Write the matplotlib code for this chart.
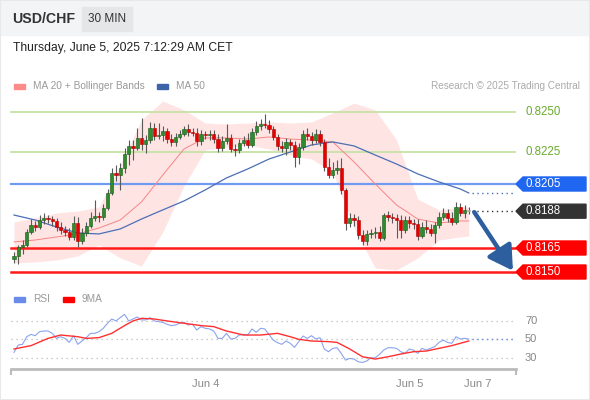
import numpy as np
import matplotlib
matplotlib.use("Agg")
import matplotlib.pyplot as plt
from matplotlib.patches import Rectangle, Polygon

plt.rcParams['font.family'] = ['Liberation Sans', 'DejaVu Sans']

# 30 min candles, USD/CHF, Jun 3 -> Jun 5 07:00
first_open = 0.81581
closes = [0.81600, 0.81656, 0.81669, 0.81750, 0.81794, 0.81781, 0.81825, 0.81838, 0.81831, 0.81819,
          0.81781, 0.81763, 0.81750, 0.81719, 0.81806, 0.81694, 0.81744, 0.81788, 0.81838, 0.81850,
          0.81844, 0.81900, 0.81994, 0.82119, 0.82106, 0.82150, 0.82238, 0.82288, 0.82275, 0.82338,
          0.82300, 0.82325, 0.82400, 0.82350, 0.82356, 0.82381, 0.82331, 0.82313, 0.82344, 0.82363,
          0.82394, 0.82375, 0.82369, 0.82319, 0.82363, 0.82356, 0.82363, 0.82331, 0.82275, 0.82319,
          0.82338, 0.82269, 0.82263, 0.82306, 0.82325, 0.82294, 0.82375, 0.82413, 0.82425, 0.82419,
          0.82394, 0.82344, 0.82288, 0.82275, 0.82313, 0.82294, 0.82219, 0.82281, 0.82363, 0.82350,
          0.82325, 0.82363, 0.82313, 0.82156, 0.82106, 0.82138, 0.82150, 0.82013, 0.81806, 0.81838,
          0.81825, 0.81731, 0.81694, 0.81738, 0.81744, 0.81750, 0.81713, 0.81856, 0.81844, 0.81838,
          0.81825, 0.81763, 0.81825, 0.81806, 0.81800, 0.81725, 0.81781, 0.81769, 0.81744, 0.81794,
          0.81844, 0.81869, 0.81838, 0.81813, 0.81906, 0.81869, 0.81888, 0.81880]
highs = [0.81625, 0.81669, 0.81700, 0.81769, 0.81831, 0.81819, 0.81856, 0.81869, 0.81856, 0.81850,
         0.81838, 0.81813, 0.81788, 0.81775, 0.81850, 0.81844, 0.81775, 0.81813, 0.81875, 0.81950,
         0.81875, 0.81925, 0.82019, 0.82150, 0.82169, 0.82181, 0.82275, 0.82325, 0.82325, 0.82400,
         0.82463, 0.82356, 0.82438, 0.82431, 0.82431, 0.82413, 0.82400, 0.82363, 0.82369, 0.82388,
         0.82413, 0.82425, 0.82400, 0.82400, 0.82388, 0.82381, 0.82388, 0.82388, 0.82363, 0.82350,
         0.82425, 0.82363, 0.82300, 0.82331, 0.82350, 0.82369, 0.82400, 0.82444, 0.82456, 0.82488,
         0.82450, 0.82413, 0.82363, 0.82319, 0.82338, 0.82331, 0.82319, 0.82306, 0.82388, 0.82400,
         0.82375, 0.82394, 0.82388, 0.82331, 0.82213, 0.82188, 0.82200, 0.82213, 0.82025, 0.81869,
         0.81863, 0.81850, 0.81763, 0.81763, 0.81769, 0.81781, 0.81788, 0.81869, 0.81881, 0.81869,
         0.81863, 0.81856, 0.81850, 0.81850, 0.81831, 0.81831, 0.81813, 0.81825, 0.81800, 0.81813,
         0.81875, 0.81900, 0.81894, 0.81875, 0.81938, 0.81931, 0.81919, 0.81906]
lows = [0.81556, 0.81550, 0.81613, 0.81656, 0.81738, 0.81756, 0.81769, 0.81800, 0.81806, 0.81788,
        0.81756, 0.81738, 0.81725, 0.81700, 0.81700, 0.81656, 0.81675, 0.81725, 0.81775, 0.81819,
        0.81813, 0.81825, 0.81888, 0.81981, 0.82069, 0.82013, 0.82119, 0.82169, 0.82200, 0.82263,
        0.82263, 0.82244, 0.82306, 0.82325, 0.82331, 0.82319, 0.82306, 0.82288, 0.82288, 0.82331,
        0.82350, 0.82350, 0.82350, 0.82288, 0.82294, 0.82331, 0.82325, 0.82306, 0.82250, 0.82256,
        0.82300, 0.82250, 0.82225, 0.82244, 0.82288, 0.82275, 0.82281, 0.82356, 0.82388, 0.82400,
        0.82369, 0.82325, 0.82263, 0.82250, 0.82231, 0.82263, 0.82156, 0.82175, 0.82263, 0.82325,
        0.82294, 0.82306, 0.82288, 0.82131, 0.82088, 0.82088, 0.82113, 0.81988, 0.81763, 0.81781,
        0.81788, 0.81706, 0.81669, 0.81669, 0.81713, 0.81713, 0.81694, 0.81700, 0.81819, 0.81806,
        0.81713, 0.81713, 0.81744, 0.81775, 0.81769, 0.81700, 0.81713, 0.81744, 0.81725, 0.81681,
        0.81775, 0.81825, 0.81813, 0.81794, 0.81800, 0.81850, 0.81838, 0.81863]

# indicators every few candles
band_idx = [0, 5, 10, 15, 20, 25, 30, 35, 40, 45, 50, 55, 60, 65, 70, 75, 80, 85, 90, 95, 100, 105, 107]
ma50 = [0.81856, 0.81825, 0.81781, 0.81744, 0.81738, 0.81769, 0.81831, 0.81888, 0.81944, 0.82013,
        0.82088, 0.82144, 0.82206, 0.82250, 0.82294, 0.82313, 0.82288, 0.82231, 0.82175, 0.82113,
        0.82063, 0.82019, 0.81994]
ma20 = [0.81688, 0.81700, 0.81719, 0.81738, 0.81775, 0.81825, 0.81938, 0.82106, 0.82269, 0.82338,
        0.82338, 0.82331, 0.82344, 0.82331, 0.82325, 0.82313, 0.82188, 0.82050, 0.81919, 0.81831,
        0.81806, 0.81819, 0.81819]
bb_upper = [0.81813, 0.81838, 0.81869, 0.81881, 0.81906, 0.82169, 0.82450, 0.82569, 0.82513, 0.82431,
            0.82425, 0.82431, 0.82438, 0.82431, 0.82438, 0.82494, 0.82556, 0.82513, 0.82325, 0.81956,
            0.81888, 0.81906, 0.81906]
bb_lower = [0.81556, 0.81563, 0.81575, 0.81600, 0.81669, 0.81588, 0.81538, 0.81750, 0.82038, 0.82263,
            0.82281, 0.82294, 0.82269, 0.82231, 0.82206, 0.82125, 0.81775, 0.81525, 0.81513, 0.81588,
            0.81700, 0.81719, 0.81725]

rsi = [36.0, 43.9, 44.6, 52.8, 55.3, 53.9, 58.2, 58.9, 58.9, 56.4,
       51.0, 52.8, 51.0, 46.7, 53.9, 44.6, 48.2, 51.8, 56.4, 56.4,
       58.2, 61.8, 67.2, 71.8, 69.7, 73.3, 76.8, 69.7, 71.8, 74.0,
       70.8, 70.8, 73.3, 69.7, 69.0, 68.2, 66.1, 64.7, 65.4, 67.2,
       68.2, 65.4, 66.1, 60.0, 63.6, 61.8, 61.1, 58.9, 51.0, 51.0,
       56.4, 50.3, 51.0, 54.6, 55.3, 54.6, 61.1, 57.5, 61.8, 61.1,
       55.3, 49.2, 46.4, 44.6, 48.2, 45.7, 41.4, 47.5, 53.5, 51.0,
       53.9, 50.3, 51.8, 39.6, 36.7, 40.3, 41.0, 34.9, 27.7, 29.5,
       28.8, 25.9, 25.2, 26.7, 30.2, 30.2, 33.8, 38.5, 41.0, 41.0,
       40.3, 36.7, 34.9, 39.6, 38.5, 34.9, 40.3, 38.5, 40.3, 42.1,
       46.7, 49.2, 46.7, 45.7, 52.8, 50.3, 51.0, 50.3]
ma9_idx = [0, 4, 8, 11, 15, 17, 20, 23, 26, 28, 30, 33, 36, 40, 44, 47, 50, 54, 58, 62,
           65, 67, 70, 74, 76, 79, 82, 85, 88, 91, 94, 97, 100, 103, 107]
ma9 = [39.6, 43.2, 51.0, 54.6, 52.8, 51.0, 51.8, 56.4, 64.7, 69.7, 72.5, 71.8, 69.7, 67.2, 64.7,
       63.6, 58.9, 54.6, 54.6, 56.4, 52.8, 50.0, 48.2, 47.5, 46.7, 39.6, 31.3, 28.8, 31.3, 34.2,
       36.7, 37.4, 40.3, 43.2, 48.2]

resistances = [0.8250, 0.8225]
pivot = 0.8205
last_price = 0.8188
supports = [0.8165, 0.8150]
target = 0.8151
tick_idx = [45, 93, 109]
tick_labels = ["Jun 4", "Jun 5", "Jun 7"]

W, H = 590, 400
fig = plt.figure(figsize=(W / 100, H / 100), dpi=100)


def fx(px):
    return px / W


def fy(px):
    return 1 - px / H


# header
fig.patches.append(Rectangle((0, fy(35)), 1, 35 / H, transform=fig.transFigure,
                             color='#f3f4f5', zorder=0))
fig.patches.append(Rectangle((fx(82), fy(31)), fx(50), 24 / H, transform=fig.transFigure,
                             color='#e4e6e8', zorder=1))
fig.patches.append(Rectangle((0, 0), 1, 1, transform=fig.transFigure, fill=False,
                             edgecolor='#e8e8e8', lw=1.5, zorder=0))
fig.text(fx(12), fy(19), "USD/CHF", fontsize=10.2, weight='bold', color='#333333', va='center')
fig.text(fx(107), fy(19), "30 MIN", fontsize=8.5, color='#333333', va='center', ha='center')
fig.text(fx(13), fy(48), "Thursday, June 5, 2025 7:12:29 AM CET", fontsize=8.7, color='#222222',
         va='center')

# legends
def swatch(x0, y0, color):
    fig.patches.append(Rectangle((fx(x0), fy(y0 + 3)), fx(11), 5 / H, transform=fig.transFigure,
                                 color=color))


swatch(14, 86, '#ff8a8a')
fig.text(fx(33), fy(86), "MA 20 + Bollinger Bands", fontsize=7.3, color='#999999', va='center')
swatch(157, 86, '#3d63a8')
fig.text(fx(176), fy(86), "MA 50", fontsize=7.3, color='#999999', va='center')
fig.text(fx(580), fy(86), "Research © 2025 Trading Central", fontsize=7.2, color='#aaaaaa',
         va='center', ha='right')
swatch(14, 299, '#6a8ce8')
fig.text(fx(33), fy(299), "RSI", fontsize=7.3, color='#999999', va='center')
swatch(63, 299, '#ff0000')
fig.text(fx(82), fy(299), "9MA", fontsize=7.3, color='#999999', va='center')

xlim = (-14 / 4.25, 576 / 4.25)
x0f, x1f = fx(11), fx(515)

# price panel
ax = fig.add_axes([0, fy(280), 1, 185 / H])
ax.set_facecolor('none')
ax.set_xlim(*xlim)
ax.set_ylim(0.8145, 0.8260625)
ax.axis('off')

ax.fill_between(band_idx, bb_lower, bb_upper, color='#ffe4e4', lw=0, zorder=1)
ax.plot(band_idx, ma20, color='#f88585', lw=0.7, zorder=2)
ax.plot(band_idx, ma50, color='#4b6fb5', lw=0.9, zorder=2)

idx = np.arange(len(closes))
c = np.array(closes)
o = np.r_[first_open, c[:-1]]
body = c - o
body = np.where(np.abs(body) < 0.00005, np.where(body < 0, -0.00005, 0.00005), body)
up = c >= o
face = np.where(up, '#2e8b2e', '#e60000').astype(object)
edge = np.where(up, '#155915', '#b00000').astype(object)
face[-1], edge[-1] = '#c8c8c8', '#a0a0a0'
ax.vlines(idx, lows, highs, color='#5a5a5a', lw=0.8, zorder=3)
ax.bar(idx, body, bottom=o, width=0.75, color=list(face), edgecolor=list(edge), lw=0.4, zorder=4)

ytf = ax.get_yaxis_transform()
half = 7 / 16000


def tag(y, text, color):
    pts = [(fx(516), y), (fx(523), y + half), (fx(586), y + half), (fx(586), y - half),
           (fx(523), y - half)]
    ax.add_patch(Polygon(pts, closed=True, transform=ytf, color=color, zorder=5, clip_on=False))
    ax.text(fx(525), y, text, transform=ytf, color='white', fontsize=8.3, va='center', zorder=6)


for r in resistances:
    ax.axhline(r, xmin=x0f, xmax=x1f, color='#c6e2a6', lw=1.3, zorder=1.5)
    ax.text(fx(525), r, f"{r:.4f}", transform=ytf, color='#6aab2c', fontsize=8.3, va='center')

ax.axhline(pivot, xmin=x0f, xmax=x1f, color='#6f9cf2', lw=1.6, zorder=1.5)
tag(pivot, f"{pivot:.4f}", '#1f66f0')

ax.axhline(last_price, xmin=fx(472), xmax=x1f, color='#333333', lw=1, ls=(0, (1, 2.5)))
tag(last_price, f"{last_price:.4f}", '#333333')
ax.axhline(ma50[-1], xmin=fx(472), xmax=x1f, color='#4b6fb5', lw=1, ls=(0, (1, 2.5)))

for s in supports:
    ax.axhline(s, xmin=x0f, xmax=x1f, color='#ff1a1a', lw=1.8, zorder=1.5)
    tag(s, f"{s:.4f}", '#ff0000')

ax.annotate("", xy=(idx[-1] + 10.4, target - 0.00002), xytext=(idx[-1] + 1.3, closes[-1] - 0.00006),
            arrowprops=dict(arrowstyle='-|>,head_width=0.5,head_length=0.85', lw=3.2,
                            color='#2d5f9e', shrinkA=0, shrinkB=0, mutation_scale=17),
            zorder=6)

# RSI panel
ax2 = fig.add_axes([0, fy(369), 1, 79 / H])
ax2.set_facecolor('none')
ax2.set_xlim(*xlim)
ax2.set_ylim(18.15, 102.9)
for side in ('top', 'left', 'right'):
    ax2.spines[side].set_visible(False)
ax2.spines['bottom'].set_color('#bbbbbb')
ax2.spines['bottom'].set_linewidth(2)
ax2.spines['bottom'].set_bounds(-3 / 4.25, 502 / 4.25)
ax2.set_yticks([])
ax2.set_xticks(tick_idx, tick_labels)
ax2.set_xticks([-3 / 4.25, 502 / 4.25], minor=True)
ax2.tick_params(axis='x', which='major', length=0, pad=7, labelsize=8, labelcolor='#888888')
ax2.tick_params(axis='x', which='minor', length=4, width=1.5, color='#bbbbbb')

for v in (30, 50, 70):
    ax2.axhline(v, xmin=x0f, xmax=x1f, color='#bbbbbb', lw=0.9, ls=(0, (1, 3)))
    ax2.text(fx(525), v, str(v), transform=ax2.get_yaxis_transform(), fontsize=8,
             color='#888888', va='center')

ax2.plot(idx, rsi, color='#8aa4ee', lw=0.8)
ax2.plot(ma9_idx, ma9, color='#ff3030', lw=1.0)
ax2.axhline(rsi[-1], xmin=fx(472), xmax=x1f, color='#6a8ce8', lw=1, ls=(0, (1, 2.5)))

fig.savefig("out.png", dpi=100)
